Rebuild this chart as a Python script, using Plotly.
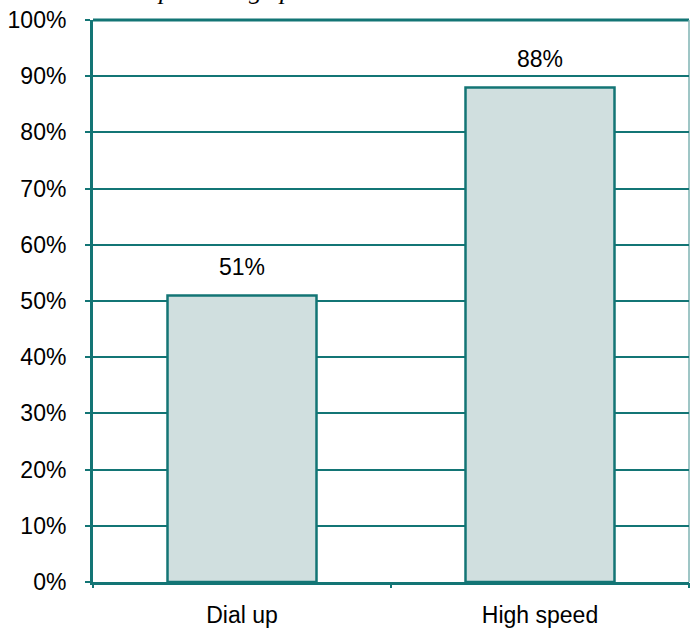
import plotly.graph_objects as go

categories = ["Dial up", "High speed"]
values = [51, 88]
value_labels = ["51%", "88%"]
y_ticks = [0, 10, 20, 30, 40, 50, 60, 70, 80, 90, 100]
y_tick_labels = [f"{v}%" for v in y_ticks]

teal = "#137575"
fill = "#d0dfdf"
font_family = "Liberation Sans, Arial"

fig = go.Figure()
fig.add_trace(go.Bar(
    x=[0, 1], y=values, width=0.5,
    marker=dict(color=fill, line=dict(color=teal, width=2.5)),
    hoverinfo="skip", showlegend=False,
))
# invisible trace on second x axis for boundary ticks
fig.add_trace(go.Scatter(x=[-0.5, 1.5], y=[0, 0], xaxis="x2", mode="markers",
                         marker=dict(opacity=0), showlegend=False, hoverinfo="skip"))

for i, (v, lab) in enumerate(zip(values, value_labels)):
    fig.add_annotation(x=i, y=v, text=lab, showarrow=False, yshift=28,
                       font=dict(family=font_family, size=23, color="#000"))

fig.add_annotation(xref="paper", yref="paper", x=0.104, y=1, yshift=13,
                   xanchor="left", yanchor="bottom", showarrow=False,
                   text="<i>percentage point</i>",
                   font=dict(family="Liberation Serif, Times New Roman", size=26, color="#000"))

fig.update_layout(
    width=690, height=628,
    margin=dict(l=93, r=1, t=20, b=46, autoexpand=False),
    paper_bgcolor="white", plot_bgcolor="white",
    bargap=0.5,
    xaxis=dict(range=[-0.5, 1.5], tickvals=[0, 1], ticktext=categories,
               ticks="", showgrid=False, zeroline=False, automargin=False,
               showline=True, linecolor=teal, linewidth=3, mirror=False,
               tickfont=dict(family=font_family, size=23, color="#000"),
               ticklabelstandoff=10),
    xaxis2=dict(range=[-0.5, 1.5], overlaying="x", side="bottom",
                tickvals=[-0.5, 0.5, 1.5], ticktext=["", "", ""],
                ticks="outside", ticklen=5, tickwidth=2, tickcolor=teal,
                showgrid=False, zeroline=False, showline=False, automargin=False),
    yaxis=dict(range=[0, 100], tickvals=y_ticks, ticktext=y_tick_labels,
               ticks="outside", ticklen=5, tickwidth=2, tickcolor=teal,
               showgrid=True, gridcolor=teal, gridwidth=1.5, automargin=False,
               zeroline=False, showline=True, linecolor=teal, linewidth=3,
               tickfont=dict(family=font_family, size=23, color="#000"),
               ticklabelstandoff=14),
)
fig.add_shape(type="line", xref="paper", yref="paper", x0=0, x1=1, y0=1, y1=1,
              line=dict(color=teal, width=3), layer="below")
fig.add_shape(type="line", xref="paper", yref="paper", x0=1, x1=1, y0=0, y1=1,
              line=dict(color="#7fb3b3", width=1.5), layer="below")

fig.write_html("out.html")
